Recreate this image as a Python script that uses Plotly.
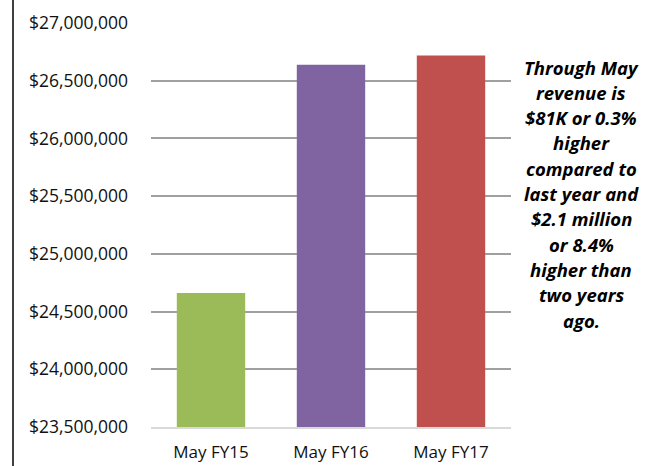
import plotly.graph_objects as go

categories = ["May FY15", "May FY16", "May FY17"]
revenue = [24660000, 26638000, 26719000]
colors = ["#9BBB59", "#8064A2", "#C0504D"]
note_lines = ["Through May", "revenue is", "$81K or 0.3%", "higher", "compared to",
              "last year and", "$2.1 million", "or 8.4%", "higher than", "two years", "ago."]
y_ticks = [23500000, 24000000, 24500000, 25000000, 25500000, 26000000, 26500000, 27000000]

W, H = 653, 466
L, R, T, B = 151, 142, 23, 39
pw, ph = W - L - R, H - T - B

def px_x(x):
    return (x - L) / pw

def px_y(y):
    return (H - B - y) / ph

fig = go.Figure(go.Bar(x=categories, y=revenue, marker=dict(color=colors, line=dict(width=0))))

fig.update_layout(
    width=W, height=H,
    margin=dict(l=L, r=R, t=T, b=B),
    paper_bgcolor="white", plot_bgcolor="white",
    bargap=0.43,
    showlegend=False,
    font=dict(family="Open Sans, sans-serif", size=16, color="#111111"),
)
fig.update_yaxes(range=[23500000, 27000000], tickvals=y_ticks, tickformat="$,.0f",
                 showgrid=True, gridcolor="#a0a0a0", gridwidth=1.5, zeroline=False,
                 showline=False, ticklabelstandoff=22, tickfont=dict(size=17.5),
                 automargin=False)
fig.update_xaxes(showline=True, linecolor="#d9d9d9", linewidth=2, showgrid=False,
                 ticklabelstandoff=9, tickfont=dict(size=17), automargin=False)

# left frame line
fig.add_shape(type="line", xref="paper", yref="paper",
              x0=px_x(13), x1=px_x(13), y0=px_y(H), y1=px_y(0),
              line=dict(color="#000000", width=1.5))

y0, step = 67, 25.3
for i, line in enumerate(note_lines):
    fig.add_annotation(xref="paper", yref="paper", x=px_x(581), y=px_y(y0 + i * step),
                       text="<b><i>" + line + "</i></b>", showarrow=False,
                       xanchor="center", yanchor="middle",
                       font=dict(size=18.5, color="#000000"))

fig.write_html("out.html")
